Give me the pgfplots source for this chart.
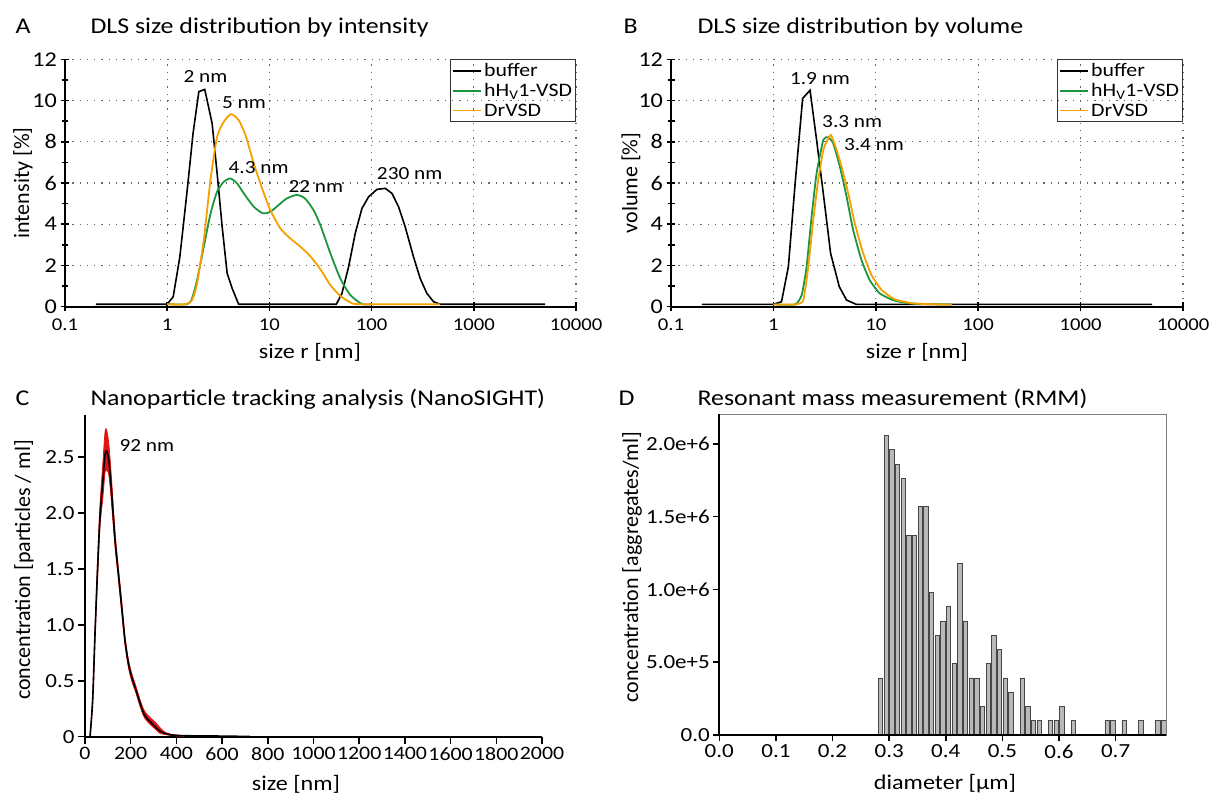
\documentclass[border=0pt]{standalone}
\usepackage{fontspec}
\setmainfont{Carlito}[FakeStretch=1.15]
\newfontfamily\rotfont{Carlito}
\usepackage{pgfplots}
\pgfplotsset{compat=1.18}
\definecolor{cgreen}{RGB}{28,150,62}
\definecolor{corange}{RGB}{246,160,0}
\definecolor{cred}{RGB}{225,20,20}
\definecolor{cbar}{RGB}{185,185,185}
\definecolor{cbardraw}{RGB}{70,70,70}
\newcommand\ftitle{\fontsize{22.5}{26}\selectfont}
\newcommand\flab{\fontsize{21}{24}\selectfont}
\newcommand\frot{\rotfont\fontsize{22}{26}\selectfont}
\newcommand\ftick{\fontsize{20}{24}\selectfont}
\newcommand\fann{\fontsize{18.5}{22}\selectfont}
\begin{document}
\begin{tikzpicture}
\useasboundingbox (0pt,0pt) rectangle (1210pt,793pt);
% ---------------- Panel A ----------------
\node[anchor=base west, font=\ftitle] at (12pt,759.5pt) {A};
\node[anchor=base west, font=\ftitle] at (87pt,759.5pt) {DLS size distribution by intensity};
\node[rotate=90, font=\frot] at (23pt,610pt) {intensity [\%]};
\node[font=\flab] at (310pt,441pt) {size r [nm]};
\begin{axis}[at={(65pt,486.3pt)}, anchor=south west, width=511pt, height=247.4pt,
    scale only axis, xmode=log, log basis x=10,
    xmin=0.1, xmax=10000, ymin=0, ymax=12,
    axis lines*=left, axis line style={-, line width=2pt},
    xtick={0.1,1,10,100,1000,10000},
    xticklabels={0.1,1,10,100,1000,10000},
    ytick={0,2,4,6,8,10,12},
    yticklabels={0,2,4,6,8,10,12},
    minor y tick num=1,
    tick align=center,
    major tick length=9pt, minor tick length=7pt,
    tick style={line width=1.5pt, black},
    grid=major,
    major grid style={line width=1.3pt, black!60, dash pattern=on 1.3pt off 6pt},
    xticklabel style={font=\fontsize{18}{20}\selectfont, yshift=-4pt},
    yticklabel style={font=\fontsize{21}{24}\selectfont},
    legend style={at={(1,1)}, anchor=north east, draw=black!80, fill=none,
      line width=1pt, font=\fontsize{19}{20}\selectfont, row sep=1.5pt,
      inner sep=1.5pt},
    legend cell align=left,
    legend image code/.code={\draw[#1, line width=1.8pt] (0pt,0pt) -- (28pt,0pt);},
    clip=false]
\addplot[black, line width=1.6pt] coordinates {
(0.2,0.12)(1.0,0.12)(1.145,0.48)(1.33,2.42)(1.57,5.66)(1.79,8.4)(2.04,10.43)(2.33,10.54)
(2.75,8.9)(3.08,6.47)(3.45,3.88)(3.86,1.62)(4.32,0.89)(5.0,0.12)(45.2,0.12)(51.3,0.65)
(59.6,1.94)(69.2,3.56)(80.5,4.77)(93.5,5.33)(112.8,5.69)(136,5.74)(158,5.5)(183.6,4.85)
(213,3.88)(257,2.42)(299,1.37)(347,0.65)(404,0.24)(468,0.12)(5000,0.12)};
\addlegendentry{buffer}
\addplot[cgreen, line width=1.8pt, smooth, tension=0.4] coordinates {
(1.0,0.12)(1.57,0.12)(1.75,0.4)(1.96,1.29)(2.28,2.9)(2.65,4.5)(3.08,5.58)(3.58,6.06)
(4.16,6.22)(4.83,5.98)(5.61,5.5)(7.03,4.85)(8.67,4.53)(10.2,4.6)(12.3,4.93)(14.8,5.25)
(18.6,5.42)(22.3,5.25)(27,4.69)(31.5,3.96)(39.5,2.59)(49.4,1.37)(61.9,0.57)(80.5,0.13)(100,0.12)};
\addlegendentry{hH\textsubscript{V}1-VSD}
\addplot[corange, line width=1.8pt, smooth, tension=0.4] coordinates {
(1.0,0.12)(1.51,0.12)(1.75,0.32)(1.96,1.13)(2.28,3.23)(2.65,6.14)(3.08,8.24)(3.58,8.97)
(4.22,9.34)(5.0,9.05)(5.83,8.33)(7.03,6.95)(8.48,5.74)(10.2,4.69)(12.8,3.8)(16.0,3.31)
(20.1,2.91)(25.1,2.45)(31.5,1.82)(39.5,1.05)(49.4,0.52)(62,0.21)(77.5,0.12)(468,0.12)};
\addlegendentry{DrVSD}
\node[font=\fann] at (axis cs:2.37,11.16) {2 nm};
\node[font=\fann] at (axis cs:5.64,9.9) {5 nm};
\node[font=\fann] at (axis cs:7.85,6.74) {4.3 nm};
\node[font=\fann] at (axis cs:28.5,5.82) {22 nm};
\node[font=\fann] at (axis cs:235.6,6.47) {230 nm};
\end{axis}
% ---------------- Panel B ----------------
\node[anchor=base west, font=\ftitle] at (620pt,759.5pt) {B};
\node[anchor=base west, font=\ftitle] at (694pt,759.5pt) {DLS size distribution by volume};
\node[rotate=90, font=\frot] at (631pt,610pt) {volume [\%]};
\node[font=\flab] at (917pt,441pt) {size r [nm]};
\begin{axis}[at={(671pt,486.3pt)}, anchor=south west, width=512pt, height=247.4pt,
    scale only axis, xmode=log, log basis x=10,
    xmin=0.1, xmax=10000, ymin=0, ymax=12,
    axis lines*=left, axis line style={-, line width=2pt},
    xtick={0.1,1,10,100,1000,10000},
    xticklabels={0.1,1,10,100,1000,10000},
    ytick={0,2,4,6,8,10,12},
    yticklabels={0,2,4,6,8,10,12},
    minor y tick num=1,
    tick align=center,
    major tick length=9pt, minor tick length=7pt,
    tick style={line width=1.5pt, black},
    grid=major,
    major grid style={line width=1.3pt, black!60, dash pattern=on 1.3pt off 6pt},
    xticklabel style={font=\fontsize{18}{20}\selectfont, yshift=-4pt},
    yticklabel style={font=\fontsize{21}{24}\selectfont},
    legend style={at={(1,1)}, anchor=north east, draw=black!80, fill=none,
      line width=1pt, font=\fontsize{19}{20}\selectfont, row sep=1.5pt,
      inner sep=1.5pt},
    legend cell align=left,
    legend image code/.code={\draw[#1, line width=1.8pt] (0pt,0pt) -- (28pt,0pt);},
    clip=false]
\addplot[black, line width=1.6pt] coordinates {
(0.2,0.11)(1.0,0.11)(1.2,0.24)(1.4,1.94)(1.63,5.98)(1.93,10.1)(2.28,10.5)(2.64,8.09)
(3.07,5.5)(3.62,2.59)(4.4,0.97)(5.18,0.32)(6.47,0.11)(5000,0.11)};
\addlegendentry{buffer}
\addplot[cgreen, line width=1.8pt, smooth, tension=0.3] coordinates {
(1.0,0.11)(1.63,0.11)(1.89,0.57)(2.11,1.94)(2.36,4.37)(2.64,6.47)(3.07,8.09)(3.43,8.22)
(3.84,7.92)(4.46,6.79)(5.18,5.34)(6.01,3.72)(7.25,2.26)(8.72,1.29)(10.9,0.65)(14.7,0.32)
(21.4,0.16)(42,0.11)(55,0.11)};
\addlegendentry{hH\textsubscript{V}1-VSD}
\addplot[corange, line width=1.8pt, smooth, tension=0.3] coordinates {
(1.0,0.11)(1.66,0.11)(1.96,0.32)(2.19,1.94)(2.45,4.2)(2.74,6.15)(3.07,7.6)(3.31,8.0)
(3.65,8.33)(4.14,7.6)(4.63,6.79)(5.38,5.5)(6.24,4.04)(7.53,2.59)(9.07,1.54)(11.4,0.81)
(15.3,0.36)(23.1,0.16)(42,0.11)(55,0.11)};
\addlegendentry{DrVSD}
\node[font=\fann] at (axis cs:2.85,11.08) {1.9 nm};
\node[font=\fann] at (axis cs:5.88,8.97) {3.3 nm};
\node[font=\fann] at (axis cs:9.6,7.88) {3.4 nm};
\end{axis}
% ---------------- Panel C ----------------
\node[anchor=base west, font=\ftitle] at (12pt,387pt) {C};
\node[anchor=base west, font=\ftitle] at (87pt,387pt) {Nanoparticle tracking analysis (NanoSIGHT)};
\node[rotate=90, font=\frot] at (24pt,223pt) {concentration [particles / ml]};
\node[font=\flab] at (296pt,9pt) {size [nm]};
\begin{axis}[at={(85pt,56.3pt)}, anchor=south west, scale only axis,
  width=457pt, height=321.7pt, xmin=0, xmax=2000, ymin=0, ymax=2.875,
  axis lines*=left, axis line style={-, line width=2pt},
  xtick={0,200,400,600,800,1000,1200,1400,1600,1800,2000},
  xticklabels={0,200,400,600,800,1000,1200,1400,1600,1800,2000},
  ytick={0,0.5,1,1.5,2,2.5}, yticklabels={0,0.5,1.0,1.5,2.0,2.5},
  tick align=outside, major tick length=7pt,
  tick style={line width=1.5pt, black},
  yticklabel style={font=\ftick},
  xticklabel style={font=\fontsize{19}{22}\selectfont}]
% red band: upper edge forward, lower edge backward
\addplot[fill=cred, draw=cred, line width=0.8pt, smooth] coordinates {
(22,0)(33.6,0.36)(43.8,0.97)(55.5,1.6)(65.7,2.07)(77.4,2.42)(87.6,2.72)(94.9,2.74)(105,2.6)
(116.8,2.28)(131.4,1.83)(146,1.51)(160.6,1.21)(175,0.9)(190,0.69)(204,0.57)(223,0.45)
(241,0.33)(260,0.23)(285,0.17)(307,0.13)(328,0.08)(350,0.04)(380,0.02)(431,0.01)
(431,0.005)(380,0.01)(350,0.02)(328,0.03)(307,0.07)(285,0.11)(260,0.17)(241,0.27)(223,0.39)
(204,0.5)(190,0.62)(175,0.82)(160.6,1.11)(146,1.41)(131.4,1.7)(116.8,2.07)(105,2.33)
(94.9,2.38)(87.6,2.36)(77.4,2.12)(65.7,1.88)(55.5,1.45)(43.8,0.87)(33.6,0.3)(22,0)} -- cycle;
\addplot[black, line width=1.6pt, smooth] coordinates {
(22,0)(33.6,0.33)(43.8,0.92)(55.5,1.52)(65.7,1.97)(77.4,2.26)(87.6,2.52)(94.9,2.55)(105,2.46)
(116.8,2.17)(131.4,1.76)(146,1.46)(160.6,1.16)(175,0.86)(190,0.655)(204,0.536)(223,0.417)
(241,0.30)(260,0.194)(285,0.134)(307,0.089)(328,0.05)(350,0.03)(380,0.015)(431,0.009)
(577,0.006)(723,0.002)};
\end{axis}
\node[font=\fann, anchor=west] at (116pt,347.5pt) {92 nm};
% ---------------- Panel D ----------------
\node[anchor=base west, font=\ftitle] at (615pt,387pt) {D};
\node[anchor=base west, font=\ftitle] at (694pt,387pt) {Resonant mass measurement (RMM)};
\node[rotate=90, font=\frot] at (632pt,226pt) {concentration [aggregates/ml]};
\node[font=\flab] at (945pt,9pt) {diameter [µm]};
\begin{axis}[name=paneld, at={(719.3pt,58pt)}, anchor=south west, scale only axis,
  width=446.7pt, height=320.7pt, xmin=0, xmax=0.789, ymin=0, ymax=2204000,
  axis line style={gray, line width=1pt},
  xtick={0,0.1,0.2,0.3,0.4,0.5,0.6,0.7},
  xticklabels={0.0,0.1,0.2,0.3,0.4,0.5,0.6,0.7},
  ytick={0,500000,1000000,1500000,2000000},
  yticklabels={0.0,5.0e+5,1.0e+6,1.5e+6,2.0e+6},
  scaled y ticks=false, scaled x ticks=false,
  xtick pos=bottom, ytick pos=left,
  tick align=outside, major tick length=6pt,
  tick style={line width=1.5pt, black},
  ticklabel style={font=\ftick}]
\addplot[ybar, bar width=0.0078, bar shift=0pt, fill=cbar, draw=cbardraw, line width=0.8pt] coordinates {
(0.285,392000)(0.295,2058000)(0.305,1960000)(0.315,1862000)(0.325,1764000)(0.335,1372000)
(0.345,1372000)(0.355,1568000)(0.365,1568000)(0.375,980000)(0.385,686000)(0.395,784000)
(0.405,882000)(0.415,490000)(0.425,1176000)(0.435,784000)(0.445,392000)(0.455,392000)
(0.465,196000)(0.475,490000)(0.485,686000)(0.495,588000)(0.505,392000)(0.515,294000)
(0.535,392000)(0.545,196000)(0.555,98000)(0.565,98000)(0.585,98000)(0.595,98000)
(0.605,196000)(0.625,98000)(0.685,98000)(0.695,98000)(0.715,98000)(0.745,98000)
(0.775,98000)(0.785,98000)};
\end{axis}
\draw[black, line width=2pt] (paneld.north west) -- (paneld.south west) -- (paneld.south east);
\end{tikzpicture}
\end{document}
